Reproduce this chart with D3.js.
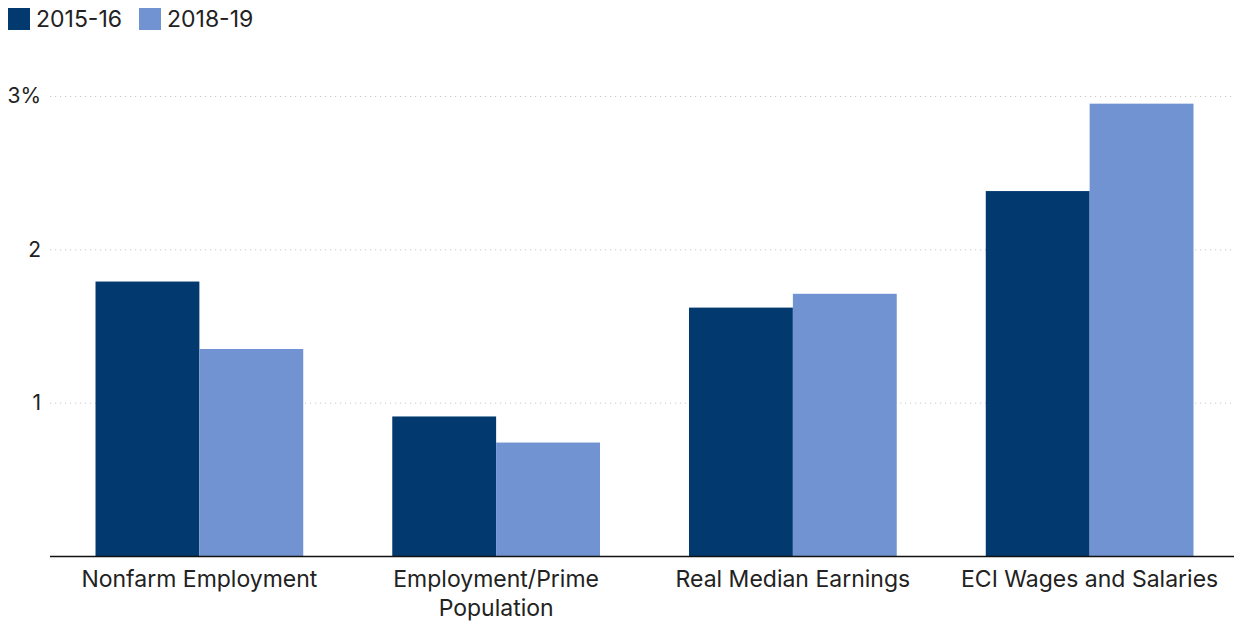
<!DOCTYPE html>
<html lang="en">
<head>
<meta charset="utf-8">
<title>Bar chart</title>
<script src="https://cdn.jsdelivr.net/npm/d3@7"></script>
<style>
  body { margin: 0; background: #fff; }
  svg { display: block; font-family: Inter, "Noto Sans", sans-serif; }
  .grid line { stroke: #c8c8c8; stroke-dasharray: 1.2, 3.8; }
  .tick text { fill: #222; font-size: 23px; font-family: Inter, sans-serif; }
  .yax .tick text { font-size: 21px; }
  .legend text { fill: #222; font-size: 23px; font-family: Inter, sans-serif; }
</style>
</head>
<body>
<script>
// data
var categories = ["Nonfarm Employment", "Employment/Prime Population", "Real Median Earnings", "ECI Wages and Salaries"];
var seriesNames = ["2015-16", "2018-19"];
var values1516 = [1.79, 0.91, 1.62, 2.38];
var values1819 = [1.35, 0.74, 1.71, 2.95];
var yTicks = [1, 2, 3];
var colors = ["#023a6f", "#7193d1"];

var w = 1234, h = 624;
var left = 51, right = 1238, baseY = 556;

var svg = d3.select("body").append("svg").attr("width", w).attr("height", h);

var x0 = d3.scaleBand().domain(categories).range([left, right]).paddingInner(0.3).paddingOuter(0.15);
var x1 = d3.scaleBand().domain(seriesNames).range([0, x0.bandwidth()]);
var y = d3.scaleLinear().domain([0, 3]).range([baseY, 96]);

// gridlines
var grid = svg.append("g").attr("class", "grid");
grid.selectAll("line").data(yTicks).enter().append("line")
  .attr("x1", 50).attr("x2", w)
  .attr("y1", function(d) { return y(d) + 0.5; })
  .attr("y2", function(d) { return y(d) + 0.5; });

// y labels
var yAxis = svg.append("g").attr("class", "yax").attr("transform", "translate(41,0)")
  .call(d3.axisLeft(y).tickValues(yTicks).tickSize(0).tickPadding(0)
    .tickFormat(function(d) { return d === 3 ? d + "%" : d; }));
yAxis.select(".domain").remove();

// bars
var rows = categories.map(function(c, i) {
  return { cat: c, vals: [values1516[i], values1819[i]] };
});
var groups = svg.selectAll(".grp").data(rows).enter().append("g")
  .attr("transform", function(d) { return "translate(" + x0(d.cat) + ",0)"; });
groups.selectAll("rect").data(function(d) {
    return d.vals.map(function(v, j) { return { s: seriesNames[j], v: v, j: j }; });
  }).enter().append("rect")
  .attr("x", function(d) { return x1(d.s); })
  .attr("width", x1.bandwidth())
  .attr("y", function(d) { return y(d.v); })
  .attr("height", function(d) { return baseY - y(d.v); })
  .attr("fill", function(d) { return colors[d.j]; });

// baseline
svg.append("line").attr("x1", 50).attr("x2", w).attr("y1", baseY + 0.5).attr("y2", baseY + 0.5)
  .attr("stroke", "#111").attr("stroke-width", 1.6);

// x labels
var xAxis = svg.append("g").attr("transform", "translate(0," + baseY + ")")
  .call(d3.axisBottom(x0).tickSize(0).tickPadding(0));
xAxis.select(".domain").remove();
xAxis.selectAll(".tick text").each(function(d) {
  var t = d3.select(this);
  var parts = d.indexOf("/") >= 0 ? [d.slice(0, d.lastIndexOf(" ")), d.slice(d.lastIndexOf(" ") + 1)] : [d];
  t.text(null).attr("dy", null).attr("y", 0);
  parts.forEach(function(p, i) {
    t.append("tspan").attr("x", 0).attr("y", 31 + i * 29).text(p);
  });
});

// legend
var legend = svg.append("g").attr("class", "legend");
var legX = [8, 139];
seriesNames.forEach(function(s, i) {
  legend.append("rect").attr("x", legX[i]).attr("y", 8).attr("width", 22).attr("height", 22).attr("fill", colors[i]);
  legend.append("text").attr("x", legX[i] + 28).attr("y", 27).text(s);
});
</script>
</body>
</html>
